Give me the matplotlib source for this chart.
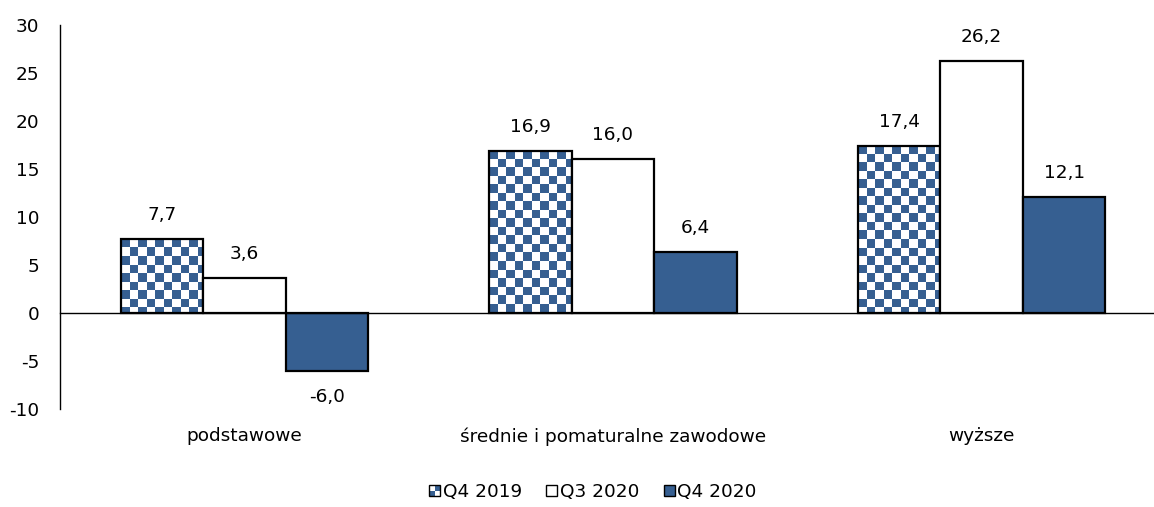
import numpy as np
import matplotlib
matplotlib.use("Agg")
import matplotlib.pyplot as plt
from matplotlib.patches import Rectangle
from matplotlib.legend_handler import HandlerBase
from matplotlib.colors import ListedColormap

categories = ["podstawowe", "średnie i pomaturalne zawodowe", "wyższe"]
series_names = ["Q4 2019", "Q3 2020", "Q4 2020"]
q4_2019 = [7.7, 16.9, 17.4]
q3_2020 = [3.6, 16.0, 26.2]
q4_2020 = [-6.0, 6.4, 12.1]
yticks = [-10, -5, 0, 5, 10, 15, 20, 25, 30]

BLUE = "#365F91"
FS = 13.3
plt.rcParams["font.family"] = ["DejaVu Sans"]
plt.rcParams["font.size"] = FS

W, H = 1154, 507
fig = plt.figure(figsize=(W / 100, H / 100), dpi=100)
ax = fig.add_axes([60 / W, 1 - 409 / H, 1106 / W, 384 / H])
ax.set_xlim(-0.5, 2.5)
ax.set_ylim(-10, 30)

x = np.arange(len(categories))
bw = 0.2237
offsets = [-bw, 0, bw]
series = [q4_2019, q3_2020, q4_2020]

# checkerboard fill for the first series (anchored at each bar's top-left)
sq_px = 8.5
px_per_x = 1106 / 3.0
px_per_y = 384 / 40.0
n = 60
checker = 1 - (np.add.outer(np.arange(n), np.arange(n)) % 2)
cmap = ListedColormap(["white", BLUE])

for i, (vals, off) in enumerate(zip(series, offsets)):
    fc = ["none", "white", BLUE][i]
    bars = ax.bar(x + off, vals, width=bw, facecolor=fc, edgecolor="black",
                  linewidth=1.6, zorder=3)
    if i == 0:
        for b in bars:
            x0 = b.get_x()
            top = b.get_y() + b.get_height()
            img = ax.imshow(checker, cmap=cmap, interpolation="nearest",
                            extent=[x0, x0 + n * sq_px / px_per_x,
                                    top - n * sq_px / px_per_y, top],
                            aspect="auto", zorder=2, vmin=0, vmax=1)
            img.set_clip_path(b)
    for b, v in zip(bars, vals):
        dy = 24 if v >= 0 else -26
        ax.annotate(f"{v:.1f}".replace(".", ","),
                    (b.get_x() + b.get_width() / 2, v),
                    xytext=(0, dy), textcoords="offset pixels",
                    ha="center", va="center", fontsize=FS)

ax.set_xlim(-0.5, 2.5)
ax.set_ylim(-10, 30)
ax.axhline(0, color="black", linewidth=1, zorder=4, clip_on=False)
for s in ["top", "right", "bottom"]:
    ax.spines[s].set_visible(False)
ax.spines["left"].set_linewidth(1)
ax.set_yticks(yticks)
ax.set_yticklabels([str(t) for t in yticks])
ax.tick_params(axis="y", length=0, pad=15)
ax.set_xticks(x)
ax.set_xticklabels(categories)
ax.tick_params(axis="x", length=0, pad=13)


class CheckerHandler(HandlerBase):
    def create_artists(self, legend, orig_handle, xdescent, ydescent,
                       width, height, fontsize, trans):
        s = min(width, height)
        x0 = width - s - xdescent
        y0 = -ydescent
        arts = []
        h = s / 2
        for r in range(2):
            for c in range(2):
                col = BLUE if (r + c) % 2 == 0 else "white"
                arts.append(Rectangle((x0 + c * h, y0 + r * h), h, h,
                                      facecolor=col, edgecolor="none", transform=trans))
        arts.append(Rectangle((x0, y0), s, s, facecolor="none",
                              edgecolor="black", linewidth=1, transform=trans))
        return arts


class SquareHandler(HandlerBase):
    def create_artists(self, legend, orig_handle, xdescent, ydescent,
                       width, height, fontsize, trans):
        s = min(width, height)
        x0 = width - s - xdescent
        y0 = -ydescent
        return [Rectangle((x0, y0), s, s, facecolor=orig_handle.get_facecolor(),
                          edgecolor="black", linewidth=1, transform=trans)]


h1 = Rectangle((0, 0), 1, 1, facecolor=BLUE)
h2 = Rectangle((0, 0), 1, 1, facecolor="white")
h3 = Rectangle((0, 0), 1, 1, facecolor=BLUE)
fig.legend([h1, h2, h3], series_names, loc="center",
           bbox_to_anchor=(593 / W, 1 - 492 / H), ncol=3, frameon=False,
           handler_map={h1: CheckerHandler(), h2: SquareHandler(), h3: SquareHandler()},
           handlelength=0.6, handleheight=0.6, handletextpad=0.15, columnspacing=1.3,
           fontsize=FS)

fig.savefig("out.png", dpi=100)
